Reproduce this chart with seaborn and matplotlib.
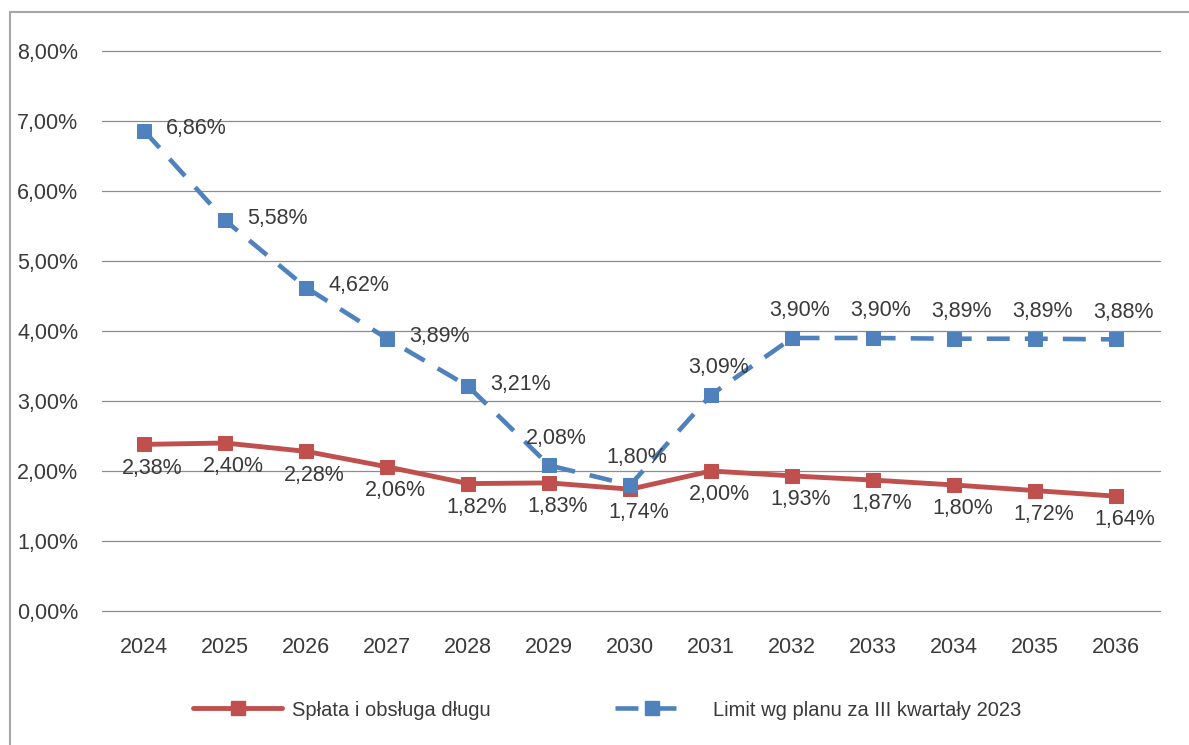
import matplotlib
matplotlib.use("Agg")
import matplotlib.pyplot as plt
from matplotlib import font_manager
from matplotlib.lines import Line2D
import seaborn as sns
import pandas as pd

years = [2024, 2025, 2026, 2027, 2028, 2029, 2030, 2031, 2032, 2033, 2034, 2035, 2036]
splata = [2.38, 2.40, 2.28, 2.06, 1.82, 1.83, 1.74, 2.00, 1.93, 1.87, 1.80, 1.72, 1.64]
limit = [6.86, 5.58, 4.62, 3.89, 3.21, 2.08, 1.80, 3.09, 3.90, 3.90, 3.89, 3.89, 3.88]
y_ticks = [0, 1, 2, 3, 4, 5, 6, 7, 8]
name_splata = "Spłata i obsługa długu"
name_limit = "Limit wg planu za III kwartały 2023"

RED = "#C0504D"
BLUE = "#4F81BD"
TXT = "#3a3a3a"
GRID = "#8c8c8c"


def pct(v):
    return f"{v:.2f}%".replace(".", ",")


sns.set_theme(style="white")
plt.rcParams["font.family"] = ["Liberation Sans", "DejaVu Sans"]

names = {f.name for f in font_manager.fontManager.ttflist}
if "Liberation Sans Narrow" in names:
    leg_family = ["Liberation Sans Narrow", "Liberation Sans"]
    leg_size = 17
else:
    leg_family = ["Liberation Sans", "DejaVu Sans"]
    leg_size = 14.5

W, H = 1189, 745
fig = plt.figure(figsize=(W / 100, H / 100), dpi=100)
ax = fig.add_axes([102 / W, (H - 611) / H, 1058 / W, 560 / H])

df = pd.DataFrame({"rok": years, "splata": splata, "limit": limit})

sns.lineplot(data=df, x="rok", y="splata", ax=ax, color=RED, lw=3.5,
             marker="s", markersize=10, markeredgecolor=RED, zorder=3)
sns.lineplot(data=df, x="rok", y="limit", ax=ax, color=BLUE, lw=3.3,
             linestyle=(0, (5, 3.3)), marker="s", markersize=10,
             markeredgecolor=BLUE, zorder=4)

ax.set_xlim(2023.48, 2036.54)
ax.set_ylim(0, 8)
ax.set_yticks(y_ticks)
ax.set_yticklabels([pct(v) for v in y_ticks])
ax.set_xticks(years)
ax.set_xticklabels([str(y) for y in years])
ax.set_xlabel("")
ax.set_ylabel("")
for s in ax.spines.values():
    s.set_visible(False)
ax.grid(False)
for v in y_ticks:
    ax.axhline(v, color=GRID, lw=0.9, zorder=1, clip_on=False)
ax.tick_params(axis="y", length=0, pad=17, labelsize=15.5, labelcolor=TXT)
ax.tick_params(axis="x", length=0, pad=19, labelsize=15.5, labelcolor=TXT)

# data labels
for i, (x, v) in enumerate(zip(years, limit)):
    if i < 5:
        ax.annotate(pct(v), (x, v), xytext=(16, 1.5), textcoords="offset points",
                    ha="left", va="center", fontsize=15.5, color=TXT, zorder=5)
    else:
        ax.annotate(pct(v), (x, v), xytext=(5, 19.5), textcoords="offset points",
                    ha="center", va="center", fontsize=15.5, color=TXT, zorder=5)
for x, v in zip(years, splata):
    ax.annotate(pct(v), (x, v), xytext=(6, -17), textcoords="offset points",
                ha="center", va="center", fontsize=15.5, color=TXT, zorder=5)

# legend (two entries placed separately)
fpx = leg_size * 100 / 72
h_red = Line2D([], [], color=RED, lw=3.5, marker="s", markersize=10)
h_blue = Line2D([], [], color=BLUE, lw=3.3, linestyle=(0, (5, 3.3)),
                marker="s", markersize=10)
leg1 = fig.legend([h_red], [name_splata], loc="center left",
                  bbox_to_anchor=(193 / W, 1 - 710 / H), frameon=False,
                  borderpad=0, borderaxespad=0, handlelength=89 / fpx,
                  handletextpad=10 / fpx,
                  prop={"family": leg_family, "size": leg_size})
for t in leg1.get_texts():
    t.set_color(TXT)
leg2 = fig.legend([h_blue], [name_limit], loc="center left",
                  bbox_to_anchor=(615 / W, 1 - 710 / H), frameon=False,
                  borderpad=0, borderaxespad=0, handlelength=73 / fpx,
                  handletextpad=25 / fpx,
                  prop={"family": leg_family, "size": leg_size})
for t in leg2.get_texts():
    t.set_color(TXT)

# outer frame (left and top edges)
fig.add_artist(Line2D([10 / W, 10 / W], [0, 1 - 12 / H], transform=fig.transFigure,
                      color="#a6a6a6", lw=1.5))
fig.add_artist(Line2D([10 / W, 1], [1 - 12 / H, 1 - 12 / H], transform=fig.transFigure,
                      color="#a6a6a6", lw=1.5))

fig.savefig("out.png", dpi=100)
